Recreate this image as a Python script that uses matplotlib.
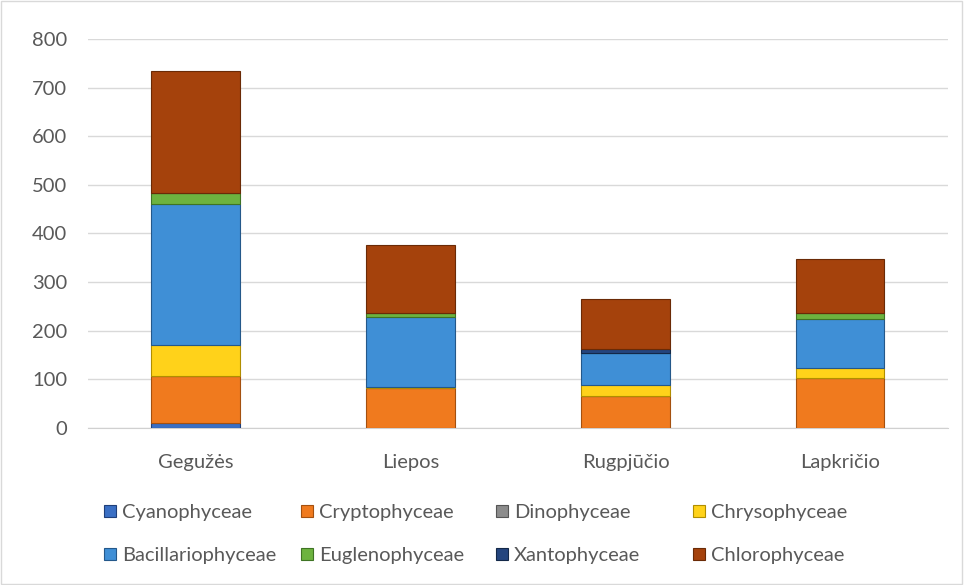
import matplotlib
matplotlib.use("Agg")
import matplotlib.pyplot as plt
import matplotlib.patches as mpatches
import numpy as np

plt.rcParams['font.family'] = ['Lato', 'DejaVu Sans']

categories = ["Gegužės", "Liepos", "Rugpjūčio", "Lapkričio"]
series_names = ["Cyanophyceae", "Cryptophyceae", "Dinophyceae", "Chrysophyceae",
                "Bacillariophyceae", "Euglenophyceae", "Xantophyceae", "Chlorophyceae"]
cyanophyceae = [10, 0, 0, 0]
cryptophyceae = [97, 82, 66, 102]
dinophyceae = [0, 0, 0, 0]
chrysophyceae = [64, 3, 22, 21]
bacillariophyceae = [290, 143, 66, 101]
euglenophyceae = [22, 8, 0, 12]
xantophyceae = [0, 0, 8, 0]
chlorophyceae = [252, 140, 103, 111]

values = [cyanophyceae, cryptophyceae, dinophyceae, chrysophyceae,
          bacillariophyceae, euglenophyceae, xantophyceae, chlorophyceae]
colors = ["#3A6FC4", "#F07A1E", "#8C8C8C", "#FFD21A",
          "#3F8FD6", "#6DB33F", "#24457E", "#A5420C"]
edges = ["#1F3F7A", "#A4500F", "#555555", "#B08E00",
         "#24588A", "#3F7424", "#132848", "#6A2A06"]

fig = plt.figure(figsize=(9.64, 5.85), dpi=100)
ax = fig.add_axes([0.0913, 0.2684, 0.892, 0.665])

x = np.arange(len(categories))
bottom = np.zeros(len(categories))
handles = []
for name, vals, c, e in zip(series_names, values, colors, edges):
    vals = np.array(vals, dtype=float)
    bars = ax.bar(x, vals, width=0.41, bottom=bottom, color=c, edgecolor=e,
                  linewidth=0.8, label=name, zorder=3)
    handles.append(bars)
    bottom += vals

ax.set_xlim(-0.5, len(categories) - 0.5)
ax.set_ylim(0, 800)
ax.set_yticks(range(0, 801, 100))
ax.set_xticks(x)
ax.set_xticklabels(categories)
ax.grid(axis='y', color='#D9D9D9', linewidth=1, zorder=0)
for s in ['top', 'right', 'left']:
    ax.spines[s].set_visible(False)
ax.spines['bottom'].set_color('#D0D0D0')
ax.tick_params(axis='both', length=0, labelsize=14.5, colors='#595959')
ax.tick_params(axis='y', pad=15)
ax.tick_params(axis='x', pad=18.5)

# legend: four equal-width columns, row-wise order
col_x = [104, 301, 496, 693]
for j in range(4):
    idx = [j, j + 4]
    fig.legend([handles[i] for i in idx], [series_names[i] for i in idx],
               loc='upper left', bbox_to_anchor=(col_x[j] / 964, 1 - 504 / 585),
               frameon=False, fontsize=14.5, handlelength=0.6, handleheight=0.6,
               handletextpad=0.3, labelspacing=1.3, borderpad=0, borderaxespad=0,
               labelcolor='#595959')

fig.patches.append(mpatches.Rectangle((0.001, 0.001), 0.997, 0.997,
                                      transform=fig.transFigure, fill=False,
                                      edgecolor='#D9D9D9', linewidth=1))

fig.savefig("out.png", dpi=100)
